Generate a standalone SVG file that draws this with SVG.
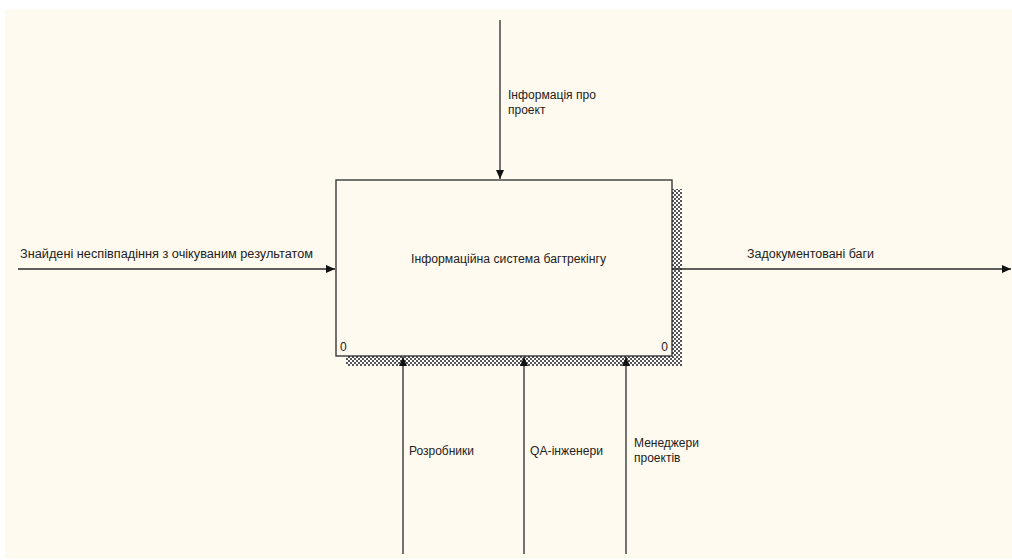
<svg xmlns="http://www.w3.org/2000/svg" width="1012" height="560" viewBox="0 0 1012 560">
<style>
text{font-family:"Liberation Sans",Arial,sans-serif;font-size:12px;fill:#222}
.ln{stroke:#2a2a2a;stroke-width:1.3;fill:none}
</style>
<defs>
<pattern id="hatch" width="4" height="4" patternUnits="userSpaceOnUse">
<rect width="4" height="4" fill="#fff"/>
<rect x="0" y="0" width="2" height="2" fill="#555"/>
<rect x="2" y="2" width="2" height="2" fill="#555"/>
</pattern>
<marker id="arr" markerWidth="10" markerHeight="8" refX="9" refY="4" orient="auto" markerUnits="userSpaceOnUse">
<path d="M0,0 L9,4 L0,8 Z" fill="#111"/>
</marker>
</defs>
<rect x="5" y="9" width="1007" height="550" fill="#fffaef"/>
<g id="node-system">
<rect x="346" y="189" width="336" height="177" fill="url(#hatch)"/>
<rect x="336" y="180" width="336" height="176" fill="#fffaef" stroke="#2a2a2a" stroke-width="1.3"/>
<text x="411" y="263" textLength="195" lengthAdjust="spacingAndGlyphs">Інформаційна система багтрекінгу</text>
<text x="340" y="351">0</text>
<text x="668" y="351" text-anchor="end">0</text>
</g>
<g id="connectors">
<line class="ln" x1="500" y1="20" x2="500" y2="179" marker-end="url(#arr)"/>
<line class="ln" x1="18" y1="269" x2="335" y2="269" marker-end="url(#arr)"/>
<line class="ln" x1="672" y1="269" x2="1011" y2="269" marker-end="url(#arr)"/>
<line class="ln" x1="403" y1="554" x2="403" y2="357" marker-end="url(#arr)"/>
<line class="ln" x1="524" y1="554" x2="524" y2="357" marker-end="url(#arr)"/>
<line class="ln" x1="626" y1="554" x2="626" y2="357" marker-end="url(#arr)"/>
</g>
<g id="labels">
<text x="508" y="99" textLength="88" lengthAdjust="spacingAndGlyphs">Інформація про</text>
<text x="508" y="114">проект</text>
<text x="20" y="258" textLength="293" lengthAdjust="spacingAndGlyphs">Знайдені неспівпадіння з очікуваним результатом</text>
<text x="747" y="258" textLength="127" lengthAdjust="spacingAndGlyphs">Задокументовані баги</text>
<text x="409" y="455" textLength="65" lengthAdjust="spacingAndGlyphs">Розробники</text>
<text x="530" y="455" textLength="73" lengthAdjust="spacingAndGlyphs">QA-інженери</text>
<text x="634" y="447">Менеджери</text>
<text x="634" y="462">проектів</text>
</g>
</svg>
